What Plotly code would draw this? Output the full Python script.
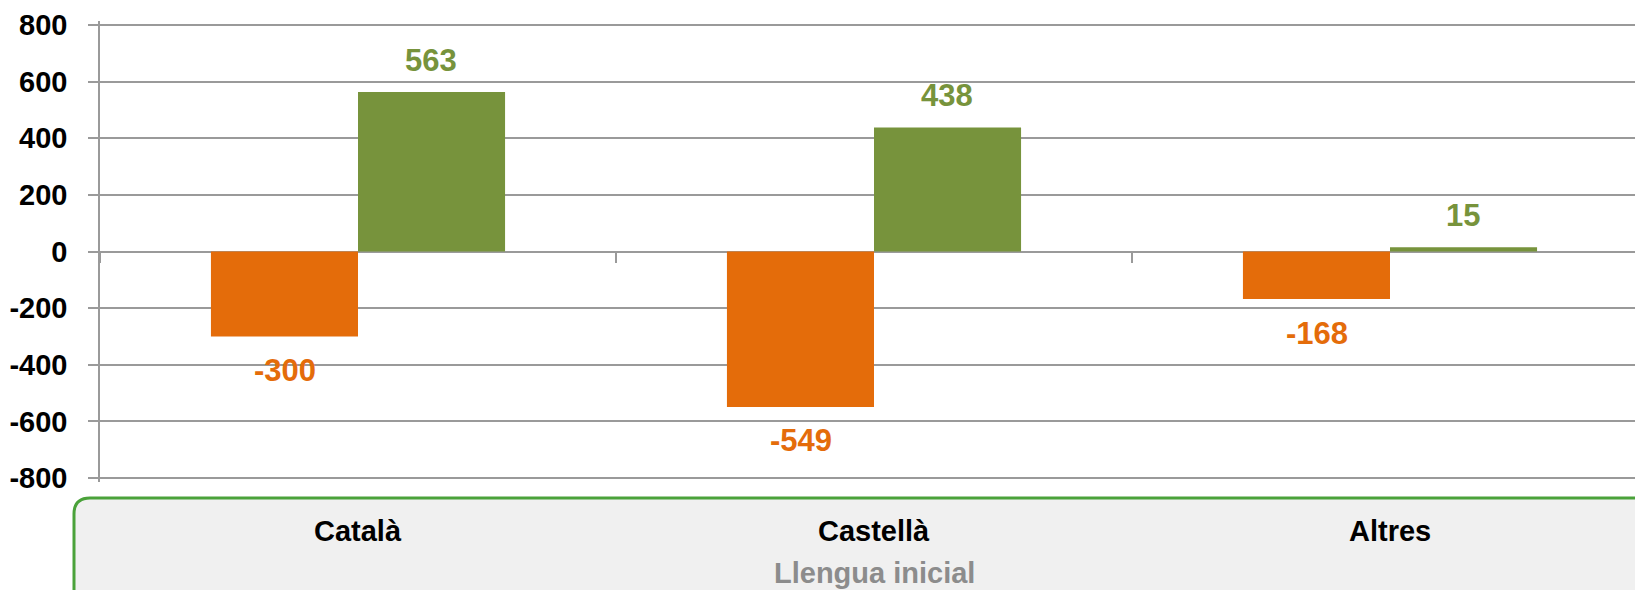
import plotly.graph_objects as go

# Data
categories = ["Català", "Castellà", "Altres"]
series_names = ["Abandonen", "Adopten"]
abandonen = [-300, -549, -168]
adopten = [563, 438, 15]
y_ticks = [-800, -600, -400, -200, 0, 200, 400, 600, 800]
axis_title = "Llengua inicial"

ORANGE = "#E46C0A"
GREEN = "#77933C"
GRID = "#9A9A9A"
FONT = "Liberation Sans Narrow, Arial Narrow, Liberation Sans, Arial, sans-serif"

W, H = 1635, 590
# +/-800 sit at pixel rows 25 and 478; pad the range by 4px each side so
# plotly keeps the outer gridlines
PAD = 4
ML, MR, MT, MB = 100, 0, 25 - PAD, 112 - PAD
plot_h = H - MT - MB
plot_w = W - ML - MR
y_lim = 800 * plot_h / (plot_h - 2 * PAD)
base = H - MB  # pixel row of paper y=0


def paper_y(py):
    return (base - py) / plot_h


fig = go.Figure()
fig.add_trace(go.Bar(x=categories, y=abandonen, name=series_names[0],
                     marker=dict(color=ORANGE, line=dict(width=0))))
fig.add_trace(go.Bar(x=categories, y=adopten, name=series_names[1],
                     marker=dict(color=GREEN, line=dict(width=0))))

# value labels
annotations = []
for i, cat in enumerate(categories):
    for vals, col, xs in ((abandonen, ORANGE, -73), (adopten, GREEN, 73)):
        v = vals[i]
        annotations.append(dict(
            x=cat, y=v, xref="x", yref="y", text=f"<b>{v}</b>", showarrow=False,
            xshift=xs, yshift=32 if v >= 0 else -34, yanchor="middle",
            font=dict(family=FONT, size=31, color=col)))
    # category label inside bottom box
    annotations.append(dict(
        x=cat, y=paper_y(531), xref="x", yref="paper",
        text=f"<b>{cat}</b>", showarrow=False, yanchor="middle",
        font=dict(family=FONT, size=29, color="black")))

annotations.append(dict(
    x=categories[1], y=paper_y(573), xref="x", yref="paper",
    text=f"<b>{axis_title}</b>", showarrow=False, yanchor="middle",
    font=dict(family=FONT, size=29, color="#8C8C8C")))

# rounded box behind category labels (paper coords)
x0 = (74 - ML) / plot_w
x1 = 1.02
yt = paper_y(498)
yb = paper_y(640)
rx = 16 / plot_w
ry = 16 / plot_h
box_path = (f"M {x0},{yb} L {x0},{yt - ry} Q {x0},{yt} {x0 + rx},{yt} "
            f"L {x1},{yt} L {x1},{yb} Z")

fig.update_layout(
    width=W, height=H,
    margin=dict(l=ML, r=MR, t=MT, b=MB),
    plot_bgcolor="white", paper_bgcolor="white",
    barmode="group", bargap=0.43, bargroupgap=0,
    showlegend=False,
    annotations=annotations,
    shapes=[dict(type="path", path=box_path, xref="paper", yref="paper",
                 fillcolor="#F0F0F0", line=dict(color="#4AA23A", width=3),
                 layer="below")],
    xaxis=dict(
        anchor="free", position=0.5, automargin=False,
        range=[-0.5, -0.5 + plot_w / 516],
        showticklabels=False, showgrid=False, showline=False,
        tickson="boundaries", ticks="outside", ticklen=10,
        tickcolor=GRID, tickwidth=1.5,
    ),
    yaxis=dict(
        range=[-y_lim, y_lim], tickvals=y_ticks,
        ticktext=[str(v) for v in y_ticks], automargin=False,
        showline=True, linecolor=GRID, linewidth=1.5,
        ticks="outside", ticklen=10, tickcolor=GRID, tickwidth=1.5,
        showgrid=True, gridcolor=GRID, gridwidth=1.5,
        zeroline=True, zerolinecolor=GRID, zerolinewidth=1.5,
        ticklabelstandoff=15,
        tickfont=dict(family=FONT, size=29, color="black", weight="bold"),
    ),
)

# drop the browser's default body margin so the figure sits at the corner
fig.write_html("out.html", config={"displayModeBar": False},
               post_script="document.body.style.margin='0px';"
                           "document.body.style.overflow='hidden';")
